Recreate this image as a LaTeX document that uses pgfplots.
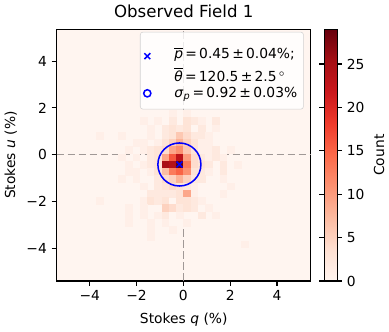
\documentclass[border=0pt]{standalone}
\usepackage{pgfplots}
\pgfplotsset{compat=1.18}
\usepackage{fontspec}
\setmainfont{DejaVu Sans}
\definecolor{redsbg}{RGB}{255,245,240}
\definecolor{refgray}{RGB}{160,152,150}
\definecolor{mplblue}{RGB}{0,0,255}

% 2D histogram counts, bin centres (q, u) and count
\pgfplotstableread{
x y c
-0.465 1.745 1
0.155 1.745 1
-1.705 1.435 1
-1.085 1.435 1
-0.465 1.435 2
0.155 1.435 3
0.465 1.435 2
0.775 1.435 1
1.395 1.435 2
-1.395 1.125 1
-0.775 1.125 2
-0.465 1.125 3
-0.155 1.125 2
0.155 1.125 3
0.775 1.125 2
1.395 1.125 1
-3.565 0.815 1
-2.635 0.815 1
-1.395 0.815 1
-0.775 0.815 2
-0.465 0.815 3
-0.155 0.815 6
0.155 0.815 4
0.465 0.815 2
0.775 0.815 2
1.085 0.815 1
-2.015 0.505 1
-1.705 0.505 1
-1.085 0.505 1
-0.775 0.505 3
-0.465 0.505 5
-0.155 0.505 8
0.155 0.505 5
0.465 0.505 3
0.775 0.505 1
1.085 0.505 1
-2.325 0.195 1
-1.705 0.195 1
-1.395 0.195 2
-1.085 0.195 3
-0.775 0.195 4
-0.465 0.195 9
-0.155 0.195 11
0.155 0.195 6
0.465 0.195 3
0.775 0.195 1
1.085 0.195 1
1.395 0.195 2
2.015 0.195 1
-2.635 -0.115 1
-2.015 -0.115 1
-1.395 -0.115 2
-1.085 -0.115 3
-0.775 -0.115 9
-0.465 -0.115 16
-0.155 -0.115 23
0.155 -0.115 10
0.465 -0.115 4
0.775 -0.115 2
1.085 -0.115 1
1.395 -0.115 2
1.705 -0.115 1
-2.325 -0.425 1
-1.705 -0.425 1
-1.395 -0.425 2
-1.085 -0.425 3
-0.775 -0.425 25
-0.465 -0.425 24
-0.155 -0.425 29
0.155 -0.425 13
0.465 -0.425 4
0.775 -0.425 3
1.085 -0.425 2
1.705 -0.425 2
2.325 -0.425 1
-2.325 -0.735 1
-2.015 -0.735 1
-1.395 -0.735 1
-1.085 -0.735 3
-0.775 -0.735 7
-0.465 -0.735 13
-0.155 -0.735 15
0.155 -0.735 11
0.465 -0.735 3
0.775 -0.735 2
1.085 -0.735 1
1.705 -0.735 2
-2.635 -1.045 1
-2.015 -1.045 1
-1.085 -1.045 2
-0.775 -1.045 4
-0.465 -1.045 5
-0.155 -1.045 8
0.155 -1.045 5
0.465 -1.045 2
0.775 -1.045 2
1.705 -1.045 1
-1.705 -1.355 1
-1.085 -1.355 2
-0.775 -1.355 3
-0.465 -1.355 4
-0.155 -1.355 3
0.155 -1.355 2
0.465 -1.355 1
2.015 -1.355 1
-1.395 -1.665 2
-1.085 -1.665 2
-0.775 -1.665 2
-0.465 -1.665 2
-0.155 -1.665 3
0.155 -1.665 9
0.465 -1.665 1
1.705 -1.665 1
-3.565 -1.975 1
-1.705 -1.975 1
-1.395 -1.975 3
-1.085 -1.975 2
-0.775 -1.975 3
-0.155 -1.975 3
0.155 -1.975 3
0.465 -1.975 2
0.775 -1.975 1
-2.325 -2.285 1
-1.705 -2.285 1
-0.775 -2.285 5
-0.465 -2.285 4
-0.155 -2.285 2
0.155 -2.285 3
0.465 -2.285 2
1.085 -2.285 1
-2.325 -2.595 1
-1.705 -2.595 1
-1.085 -2.595 1
-0.775 -2.595 2
-0.155 -2.595 1
0.775 -2.595 2
1.395 -2.595 1
-2.325 -2.905 1
-1.395 -2.905 1
-0.775 -2.905 1
0.155 -2.905 1
-1.395 -3.215 1
-0.465 -3.215 1
-1.395 -3.525 1
2.635 -3.835 1
}\histdata

\newcommand{\eqs}{\hspace{1.6pt}}

\begin{document}
\begin{tikzpicture}
\begin{axis}[
  x=16.9pt, y=16.9pt,
  xmin=-5.42, xmax=5.45, ymin=-5.40, ymax=5.36,
  axis background/.style={fill=redsbg},
  axis line style={line width=0.8pt},
  tick style={line width=0.8pt, black},
  tick align=outside, major tick length=3.5pt, tick pos=left,
  xtick={-4,-2,0,2,4}, xticklabels={−4,−2,0,2,4},
  ytick={-4,-2,0,2,4}, yticklabels={−4,−2,0,2,4},
  xlabel={Stokes \textit{q} (\%)},
  ylabel={Stokes \textit{u} (\%)},
  xlabel style={yshift=-2pt},
  title={Observed Field 1},
  title style={font=\fontsize{12}{14}\selectfont, yshift=-1pt},
  colormap={reds}{rgb255=(255,245,240) rgb255=(254,224,210) rgb255=(252,187,161)
    rgb255=(252,146,114) rgb255=(251,106,74) rgb255=(239,59,44)
    rgb255=(203,24,29) rgb255=(165,15,21) rgb255=(103,0,13)},
  point meta min=0, point meta max=29,
  colorbar,
  colorbar style={
    width=9.4pt,
    at={(parent axis.north east)}, anchor=north west, xshift=1pt,
    ytick={0,5,10,15,20,25}, yticklabels={0,5,10,15,20,25},
    ylabel={Count},
    tick align=outside, major tick length=3.5pt,
    axis line style={line width=0.8pt},
    tick style={line width=0.8pt, black},
  },
  legend cell align=left,
  legend style={at={(0.972,0.99)}, anchor=north east,
    draw=black!18, fill=white, fill opacity=0.8, text opacity=1,
    rounded corners=2pt, row sep=8pt, column sep=15pt,
    inner xsep=2.5pt, inner ysep=5pt,
    font=\fontsize{10}{12}\selectfont},
]
\addplot[scatter, only marks, mark=square*, mark size=2.45pt,
  point meta=explicit, forget plot,
  mark options={line width=0.4pt},
  scatter/use mapped color={draw=mapped color, fill=mapped color}]
  table[x=x, y=y, meta=c] {\histdata};

\addplot[refgray, line width=1.1pt, dash pattern=on 5.55pt off 2.4pt, forget plot]
  coordinates {(-5.42,0) (5.45,0)};
\addplot[refgray, line width=1.1pt, dash pattern=on 5.55pt off 2.4pt, forget plot]
  coordinates {(0,-5.40) (0,5.36)};

\addplot[only marks, mark=x, mark size=3pt, mplblue, mark options={line width=1.1pt}]
  coordinates {(-0.17,-0.42)};
\addlegendentry{\renewcommand{\arraystretch}{1.4}\begin{tabular}{@{}l@{}}
  $\overline{\mbox{\textit{p}}}$\eqs=\eqs0.45\eqs±\eqs0.04\%;\\
  $\overline{\mbox{\textit{θ}}}$\eqs=\eqs120.5\eqs±\eqs2.5\,$^{\circ}$
  \end{tabular}}

\addplot[only marks, mark=o, mark size=15.55pt, mplblue,
  mark options={line width=1.1pt}, forget plot]
  coordinates {(-0.17,-0.42)};
\addlegendimage{only marks, mark=o, mplblue, mark options={line width=1.1pt, scale=1, mark size=2.6pt}}
\addlegendentry{\textit{σ}\textsubscript{\textit{p}}\eqs=\eqs0.92\eqs±\eqs0.03\%}
\end{axis}
\end{tikzpicture}
\end{document}
